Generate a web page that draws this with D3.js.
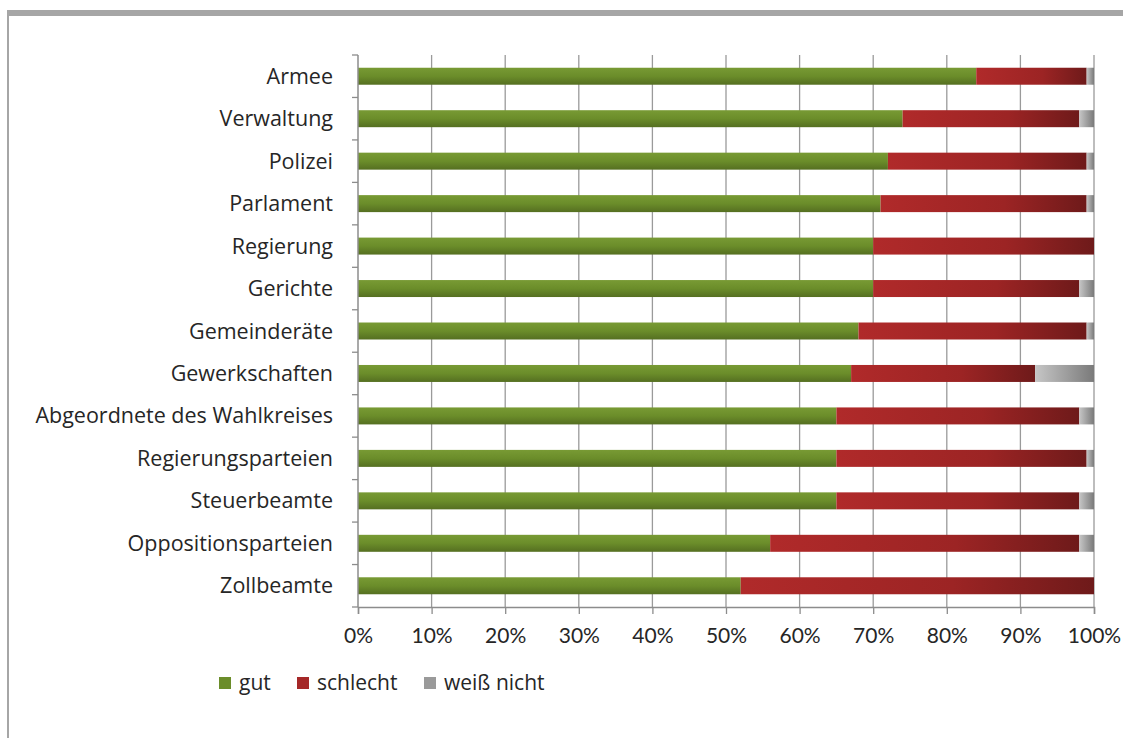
<!DOCTYPE html>
<html>
<head>
<meta charset="utf-8">
<script src="https://cdn.jsdelivr.net/npm/d3@7"></script>
<style>
  body { margin: 0; background: #fff; }
  svg text { font-family: "Open Sans", Lato, sans-serif; fill: #262626; }
</style>
</head>
<body>
<div id="chart"></div>
<script>
// *** data (percent) ***
var categories = ["Armee", "Verwaltung", "Polizei", "Parlament", "Regierung", "Gerichte",
    "Gemeinderäte", "Gewerkschaften", "Abgeordnete des Wahlkreises", "Regierungsparteien",
    "Steuerbeamte", "Oppositionsparteien", "Zollbeamte"];
var gut      = [84, 74, 72, 71, 70, 70, 68, 67, 65, 65, 65, 56, 52];
var schlecht = [15, 24, 27, 28, 30, 28, 31, 25, 33, 34, 33, 42, 48];
var weiss    = [1, 2, 1, 1, 0, 2, 1, 8, 2, 1, 2, 2, 0];
var seriesNames = ["gut", "schlecht", "weiß nicht"];
var xTicks = [0, 10, 20, 30, 40, 50, 60, 70, 80, 90, 100];

var W = 1123, H = 738;
var margin = {top: 55, left: 358, right: 29, bottom: 131};
var width = W - margin.left - margin.right;
var height = H - margin.top - margin.bottom;

var svg = d3.select("#chart").append("svg")
    .attr("width", W)
    .attr("height", H);

// frame lines (top bar and left edge)
svg.append("rect").attr("x", 7).attr("y", 10).attr("width", W - 7).attr("height", 6).style("fill", "#a6a6a6");
svg.append("rect").attr("x", 7).attr("y", 10).attr("width", 2).attr("height", H - 10).style("fill", "#a6a6a6");

var defs = svg.append("defs");
function grad(id, stops, vertical) {
    var g = defs.append("linearGradient").attr("id", id)
        .attr("x1", 0).attr("y1", 0)
        .attr("x2", vertical ? 0 : 1).attr("y2", vertical ? 1 : 0);
    stops.forEach(function(s) {
        g.append("stop").attr("offset", s[0]).attr("stop-color", s[1]);
    });
}
grad("g-gut", [[0, "#789a34"], [0.5, "#6b8d2a"], [1, "#556f21"]], true);
grad("g-schlecht", [[0, "#b02a2a"], [0.6, "#9c2424"], [1, "#6e1a1a"]], false);
grad("g-weiss", [[0, "#c6c6c6"], [1, "#7a7a7a"]], false);
var fills = ["url(#g-gut)", "url(#g-schlecht)", "url(#g-weiss)"];
var swatch = ["#6b8d2a", "#a52828", "#9a9a9a"];

var x = d3.scaleLinear().domain([0, 100]).range([0, width]);
var y = d3.scaleBand().domain(categories).range([0, height]).paddingInner(0.6).paddingOuter(0.3);
var yb = d3.scaleBand().domain(categories).range([0, height]);

var plot = svg.append("g")
    .attr("transform", "translate(" + margin.left + "," + margin.top + ")");

// vertical gridlines
plot.selectAll(".grid").data(xTicks.slice(1)).enter().append("line")
    .attr("x1", function(d) { return x(d); })
    .attr("x2", function(d) { return x(d); })
    .attr("y1", 0).attr("y2", height)
    .style("stroke", "#9a9a9a").style("stroke-width", 1.3);

// stacked bars
var rows = categories.map(function(c, i) { return {cat: c, gut: gut[i], schlecht: schlecht[i], weiss: weiss[i]}; });
var stack = d3.stack().keys(["gut", "schlecht", "weiss"]);
var layers = stack(rows);

plot.selectAll(".layer").data(layers).enter().append("g")
    .style("fill", function(d, i) { return fills[i]; })
    .selectAll("rect").data(function(d) { return d; }).enter().append("rect")
    .attr("x", function(d) { return x(d[0]); })
    .attr("width", function(d) { return Math.max(0, x(d[1]) - x(d[0])); })
    .attr("y", function(d) { return y(d.data.cat); })
    .attr("height", y.bandwidth());

// axes
var xAxis = d3.axisBottom(x).tickValues(xTicks).tickFormat(function(d) { return d + "%"; })
    .tickSize(7).tickPadding(14);
var gx = plot.append("g").attr("transform", "translate(0," + height + ")").call(xAxis);
gx.select(".domain").style("stroke", "#8c8c8c").style("stroke-width", 1.5);
gx.selectAll(".tick line").style("stroke", "#8c8c8c").style("stroke-width", 1.3);
gx.selectAll("text").style("fill", "#262626")
    .style("font-family", "Lato, sans-serif").style("font-size", "21px");

var gy = plot.append("g");
gy.append("line").attr("x1", 0).attr("x2", 0).attr("y1", 0).attr("y2", height)
    .style("stroke", "#8c8c8c").style("stroke-width", 1.5);
var bounds = categories.map(function(c) { return yb(c); }).concat([height]);
gy.selectAll(".ytick").data(bounds).enter().append("line")
    .attr("x1", -6).attr("x2", 0)
    .attr("y1", function(d) { return d; }).attr("y2", function(d) { return d; })
    .style("stroke", "#8c8c8c").style("stroke-width", 1.3);
gy.selectAll(".ylab").data(categories).enter().append("text")
    .attr("x", -25)
    .attr("y", function(d) { return yb(d) + yb.bandwidth() / 2; })
    .attr("dy", "0.35em")
    .attr("text-anchor", "end")
    .style("font-size", "21.5px")
    .text(function(d) { return d; });

// legend
var legend = svg.append("g").attr("transform", "translate(219,677)");
var legendX = [0, 78, 205];
var items = legend.selectAll(".item").data(seriesNames).enter().append("g")
    .attr("transform", function(d, i) { return "translate(" + legendX[i] + ",0)"; });
items.append("rect").attr("width", 12).attr("height", 12)
    .style("fill", function(d, i) { return swatch[i]; });
items.append("text").attr("x", 20).attr("y", 6).attr("dy", "0.35em")
    .style("font-size", "21px")
    .text(function(d) { return d; });
</script>
</body>
</html>
